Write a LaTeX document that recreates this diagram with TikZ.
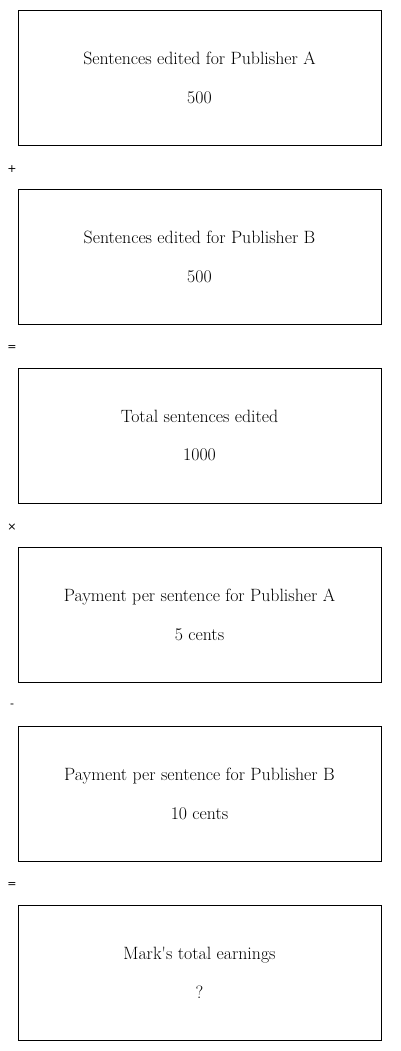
\documentclass[tikz,border=0pt]{standalone}
\usepackage{fontspec}
\newfontfamily\opfont{DejaVu Sans}
\usepackage{tikz}
\usetikzlibrary{positioning}

\begin{document}
\begin{tikzpicture}[
    x=1pt, y=-1pt,
    node distance=43.2pt,
    qty/.style={
        rectangle, draw, line width=0.8pt,
        minimum width=363pt,
        minimum height=135pt,
        align=center, font=\fontsize{17.8}{21.4}\selectfont
    },
    op/.style={font=\opfont\fontsize{11}{13}\selectfont, inner sep=0pt}
]
\useasboundingbox (0,0) rectangle (400,1051);

\node[qty] (pubA) at (199.5,77.5) {Sentences edited for Publisher A\\[17.5pt]500};
\node[qty, below=of pubA] (pubB) {Sentences edited for Publisher B\\[17.5pt]500};
\node[qty, below=of pubB] (total) {Total sentences edited\\[17.5pt]1000};
\node[qty, below=of total] (payA) {Payment per sentence for Publisher A\\[17.5pt]5 cents};
\node[qty, below=of payA] (payB) {Payment per sentence for Publisher B\\[17.5pt]10 cents};
\node[qty, below=of payB] (earn) {Mark\textquotesingle s total earnings\\[17.5pt]?};

% operators between the boxes
\node[op] (plus)  at (12,169) {+};
\node[op] (eq1)   at (12,348) {=};
\node[op] (times) at (12,527) {×};
\node[op] (minus) at (12,706) {-};
\node[op] (eq2)   at (12,885) {=};

\end{tikzpicture}
\end{document}
